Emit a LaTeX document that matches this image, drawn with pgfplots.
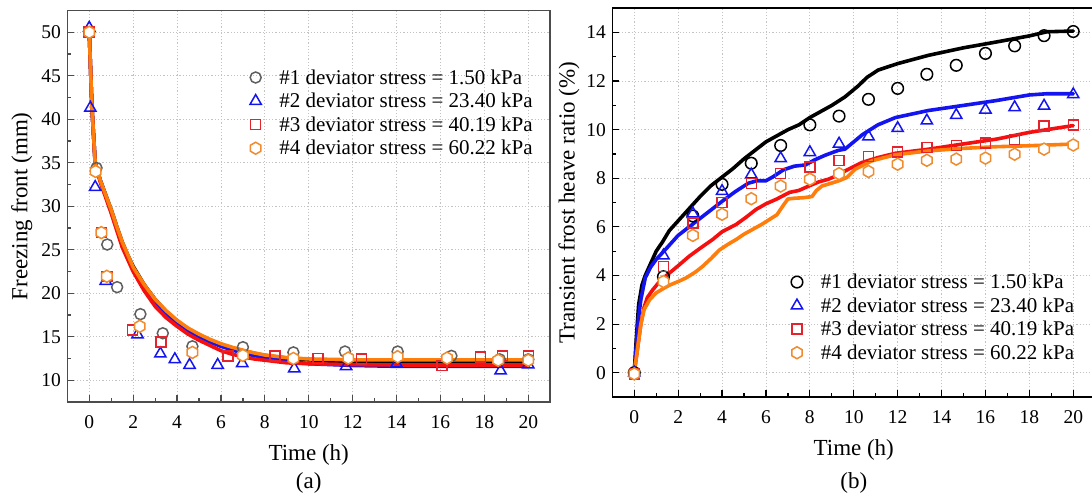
\documentclass[border=0pt]{standalone}
\usepackage{fontspec}
\setmainfont{Liberation Serif}
\usepackage{pgfplots}
\pgfplotsset{compat=1.18}

\definecolor{cblue}{RGB}{20,20,240}
\definecolor{cred}{RGB}{245,15,15}
\definecolor{corange}{RGB}{255,125,10}
\definecolor{mgrey}{RGB}{95,95,95}
\definecolor{mred}{RGB}{228,35,45}
\definecolor{morange}{RGB}{240,140,45}
\definecolor{gridc}{RGB}{195,195,195}

\pgfdeclareplotmark{hexagon}{%
  \pgfpathmoveto{\pgfqpointpolar{90}{\pgfplotmarksize}}%
  \pgfpathlineto{\pgfqpointpolar{150}{\pgfplotmarksize}}%
  \pgfpathlineto{\pgfqpointpolar{210}{\pgfplotmarksize}}%
  \pgfpathlineto{\pgfqpointpolar{270}{\pgfplotmarksize}}%
  \pgfpathlineto{\pgfqpointpolar{330}{\pgfplotmarksize}}%
  \pgfpathlineto{\pgfqpointpolar{30}{\pgfplotmarksize}}%
  \pgfpathclose
  \pgfusepathqfillstroke}

\newcommand{\lsp}{\hspace*{16pt}}

\pgfplotsset{
  myaxis/.style={
    scale only axis, width=482.9pt, clip=false,
    xmin=-1, xmax=21,
    xtick={0,2,...,20}, minor x tick num=1,
    tick align=inside, xtick pos=left, ytick pos=left,
    grid=major,
    major grid style={gridc, dash pattern=on 1.2pt off 2pt, line width=0.9pt},
    major tick length=7pt, minor tick length=4pt,
    tick label style={font=\rmfamily\fontsize{19.5}{22}\selectfont},
    xticklabel style={yshift=-10pt},
    yticklabel style={xshift=-3pt},
    label style={font=\rmfamily\fontsize{23}{26}\selectfont},
    xlabel style={yshift=-9pt},
    /pgf/number format/assume math mode=true,
    legend style={draw=none, fill=none, font=\rmfamily\fontsize{21}{24}\selectfont,
      inner sep=0pt, row sep=3.5pt},
    legend cell align=left,
    curve/.style={line width=3.6pt, line join=round, line cap=round},
    pts/.style={only marks},
  }
}

\begin{document}
\begin{tikzpicture}
\useasboundingbox (0,0) rectangle (1092pt,498pt);

% ---------------- (a) ----------------
\begin{axis}[myaxis, at={(67.3pt,96pt)}, anchor=south west, height=391.5pt,
  ymin=7.5, ymax=52.5, ytick={10,15,...,50}, minor y tick num=1,
  axis line style={line width=1.5pt, black!70},
  every tick/.style={black!70, line width=1.2pt},
  xlabel={Time (h)}, ylabel={Freezing front (mm)},
  ylabel style={yshift=2pt},
  legend style={at={(0.378,0.855)}, anchor=north west}]
\addplot[curve, black, forget plot] coordinates {(0,50) (0.12,41.5) (0.27,35.0) (0.5,33.0) (0.75,31.3) (1.0,29.6) (1.25,27.7) (1.5,25.9) (1.75,24.4) (2,23.1) (2.5,21.0) (3,19.3) (3.5,17.9) (4,16.8) (4.5,15.9) (5,15.2) (5.5,14.6) (6,14.1) (6.5,13.7) (7,13.4) (7.5,13.1) (8,12.85) (9,12.55) (10,12.35) (11,12.2) (12,12.1) (14,12.05) (16,12.05) (18,12.05) (20,12.05)};
\addplot[curve, cblue, forget plot] coordinates {(0,50) (0.12,41.5) (0.27,35.0) (0.5,33.0) (0.75,31.2) (1.0,29.4) (1.5,25.6) (2,22.8) (2.5,20.6) (3,18.8) (3.5,17.5) (4,16.5) (4.5,15.7) (5,15.0) (5.5,14.4) (6,13.9) (7,13.1) (8,12.6) (9,12.2) (10,11.9) (12,11.7) (14,11.6) (16,11.6) (18,11.6) (20,11.6)};
\addplot[curve, cred, forget plot] coordinates {(0,50) (0.12,41.5) (0.27,34.8) (0.5,32.8) (0.75,31.0) (1.0,29.2) (1.5,25.3) (2,22.5) (2.5,20.3) (3,18.5) (3.5,17.2) (4,16.2) (4.5,15.3) (5,14.6) (5.5,14.0) (6,13.4) (6.5,13.0) (7,12.7) (7.5,12.45) (8,12.3) (9,12.0) (10,11.9) (12,11.8) (14,11.75) (16,11.75) (18,11.75) (20,11.75)};
\addplot[curve, corange, forget plot] coordinates {(0,50) (0.12,41.5) (0.27,35.0) (0.5,33.0) (0.75,31.3) (1.0,29.6) (1.25,27.7) (1.5,25.9) (2,23.0) (2.5,21.0) (3,19.3) (3.5,18.0) (4,16.9) (4.5,16.0) (5,15.3) (5.5,14.7) (6,14.2) (6.5,13.8) (7,13.45) (7.5,13.15) (8,12.9) (9,12.6) (10,12.45) (12,12.35) (14,12.35) (16,12.35) (18,12.35) (20,12.35)};

\addplot[pts, mgrey, mark=o, mark size=5.5pt, mark options={draw=mgrey, fill=white, line width=1.5pt}] coordinates {(0,50) (0.33,34.4) (0.82,25.6) (1.27,20.7) (2.33,17.6) (3.35,15.4) (4.7,13.9) (7.0,13.8) (9.3,13.2) (11.65,13.3) (14.05,13.3) (16.5,12.8) (18.7,12.4) (20,12.4)};
\addlegendentry{\lsp\#1 deviator stress = 1.50 kPa}
\addplot[pts, cblue, mark=triangle, mark size=6.5pt, mark options={draw=cblue, fill=white, line width=1.5pt}] coordinates {(0,50.5) (0.05,41.3) (0.27,32.2) (0.75,21.4) (2.2,15.25) (3.24,13.05) (3.9,12.4) (4.57,11.75) (5.85,11.75) (6.97,11.95) (9.34,11.35) (11.7,11.6) (14.0,11.9) (18.74,11.1) (20,11.8)};
\addlegendentry{\lsp\#2 deviator stress = 23.40 kPa}
\addplot[pts, mred, mark=square, mark size=5pt, mark options={draw=mred, fill=white, line width=1.5pt}] coordinates {(0,50) (0.55,27.0) (0.8,21.95) (1.96,15.8) (3.27,14.4) (6.33,12.8) (8.46,12.8) (10.43,12.5) (12.41,12.45) (16.08,11.7) (17.83,12.65) (18.83,12.8) (20,12.8)};
\addlegendentry{\lsp\#3 deviator stress = 40.19 kPa}
\addplot[pts, morange, mark=hexagon, mark size=6pt, mark options={draw=morange, fill=white, line width=1.5pt}] coordinates {(0,50) (0.29,34.0) (0.55,26.97) (0.8,21.95) (2.3,16.2) (4.7,13.2) (7.0,12.85) (9.3,12.5) (11.8,12.55) (14.05,12.7) (16.3,12.55) (18.63,12.3) (20,12.3)};
\addlegendentry{\lsp\#4 deviator stress = 60.22 kPa}
\node[font=\rmfamily\fontsize{23}{26}\selectfont] at (rel axis cs:0.5,0) [yshift=-81pt] {(a)};
\end{axis}

% ---------------- (b) ----------------
\begin{axis}[myaxis, at={(612.3pt,101pt)}, anchor=south west, height=388.8pt,
  ymin=-1, ymax=15, ytick={0,2,...,14}, minor y tick num=1,
  axis line style={line width=1.5pt, black},
  every tick/.style={black, line width=1.2pt},
  xlabel={Time (h)}, ylabel={Transient frost heave ratio (\%)},
  legend style={at={(0.37,0.322)}, anchor=north west}]
\addplot[curve, black, forget plot] coordinates {(0,0) (0.1,1.5) (0.2,2.8) (0.35,3.6) (0.5,4.0) (0.75,4.5) (1.0,5.0) (1.3,5.4) (1.6,5.85) (2.0,6.25) (2.5,6.75) (3.0,7.25) (3.5,7.7) (4.0,8.05) (4.5,8.4) (5.0,8.8) (5.5,9.15) (6.0,9.5) (6.5,9.75) (7.0,10.0) (7.5,10.2) (8.0,10.5) (8.5,10.75) (9.0,11.0) (9.6,11.35) (10.2,11.8) (10.6,12.15) (11.1,12.45) (12,12.72) (13.4,13.06) (15,13.37) (16.5,13.61) (18,13.86) (18.8,14.03) (20,14.06)};
\addplot[curve, cblue, forget plot] coordinates {(0,0) (0.1,1.2) (0.2,2.3) (0.3,3.0) (0.5,3.9) (0.75,4.35) (1.0,4.66) (1.4,5.05) (2.0,5.65) (2.5,6.0) (3.0,6.35) (3.5,6.7) (4.0,7.05) (4.6,7.45) (5.2,7.8) (5.6,7.9) (6.0,7.9) (6.3,8.05) (6.8,8.35) (7.3,8.5) (7.8,8.55) (8.2,8.75) (8.7,8.95) (9.3,9.15) (9.6,9.2) (10.0,9.5) (10.4,9.8) (11.1,10.2) (11.9,10.5) (13.4,10.79) (15,11.0) (16.5,11.2) (18,11.43) (18.8,11.48) (20,11.48)};
\addplot[curve, cred, forget plot] coordinates {(0,0) (0.15,1.0) (0.3,2.0) (0.45,2.7) (0.6,3.1) (0.85,3.42) (1.2,3.8) (1.6,4.1) (2.0,4.4) (2.5,4.79) (3.0,5.12) (3.57,5.48) (4.0,5.8) (4.64,6.1) (5.1,6.4) (5.55,6.72) (6.0,6.95) (6.5,7.15) (7.07,7.42) (7.5,7.5) (8.0,7.7) (8.4,7.85) (8.84,7.96) (9.2,8.1) (9.6,8.3) (10.37,8.65) (11.13,8.86) (11.9,9.03) (13.43,9.2) (14.96,9.41) (16.49,9.61) (18.0,9.89) (20,10.17)};
\addplot[curve, corange, forget plot] coordinates {(0,0) (0.15,1.0) (0.3,2.0) (0.45,2.6) (0.7,3.0) (0.99,3.28) (1.3,3.45) (1.6,3.6) (2.0,3.75) (2.36,3.9) (2.8,4.15) (3.12,4.38) (3.5,4.7) (3.88,5.05) (4.3,5.3) (4.64,5.48) (5.0,5.7) (5.4,5.9) (5.8,6.1) (6.15,6.3) (6.5,6.5) (6.8,6.9) (7.0,7.15) (7.3,7.18) (7.7,7.2) (8.1,7.25) (8.3,7.5) (8.55,7.68) (9.3,7.89) (9.68,8.03) (10.06,8.37) (10.83,8.72) (11.9,8.97) (13.43,9.13) (14.96,9.23) (16.49,9.3) (18,9.34) (20,9.41)};

\addplot[pts, black, mark=o, mark size=5.8pt, mark options={draw=black, fill=white, line width=1.5pt}] coordinates {(0,0) (1.33,3.95) (2.67,6.45) (4,7.75) (5.33,8.62) (6.67,9.35) (8,10.2) (9.33,10.56) (10.67,11.25) (12,11.7) (13.33,12.28) (14.67,12.65) (16,13.14) (17.33,13.45) (18.67,13.87) (20,14.04)};
\addlegendentry{\lsp\#1 deviator stress = 1.50 kPa}
\addplot[pts, cblue, mark=triangle, mark size=6.5pt, mark options={draw=cblue, fill=white, line width=1.5pt}] coordinates {(0,0) (1.33,4.82) (2.67,6.55) (4,7.47) (5.33,8.15) (6.67,8.82) (8,9.07) (9.33,9.42) (10.67,9.72) (12,10.06) (13.33,10.37) (14.67,10.6) (16,10.82) (17.33,10.92) (18.67,10.98) (20,11.45)};
\addlegendentry{\lsp\#2 deviator stress = 23.40 kPa}
\addplot[pts, mred, mark=square, mark size=5pt, mark options={draw=mred, fill=white, line width=1.5pt}] coordinates {(0,-0.05) (1.33,4.38) (2.67,6.17) (4,7.0) (5.33,7.78) (6.67,8.2) (8,8.46) (9.33,8.74) (10.67,8.9) (12,9.08) (13.33,9.26) (14.67,9.36) (16,9.46) (17.33,9.6) (18.67,10.15) (20,10.2)};
\addlegendentry{\lsp\#3 deviator stress = 40.19 kPa}
\addplot[pts, morange, mark=hexagon, mark size=6pt, mark options={draw=morange, fill=white, line width=1.5pt}] coordinates {(0,-0.05) (1.33,3.75) (2.67,5.65) (4,6.52) (5.33,7.16) (6.67,7.68) (8,7.96) (9.33,8.19) (10.67,8.28) (12,8.58) (13.33,8.74) (14.67,8.79) (16,8.83) (17.33,8.99) (18.67,9.2) (20,9.37)};
\addlegendentry{\lsp\#4 deviator stress = 60.22 kPa}
\node[font=\rmfamily\fontsize{23}{26}\selectfont] at (rel axis cs:0.5,0) [yshift=-86pt] {(b)};
\end{axis}
\end{tikzpicture}
\end{document}
